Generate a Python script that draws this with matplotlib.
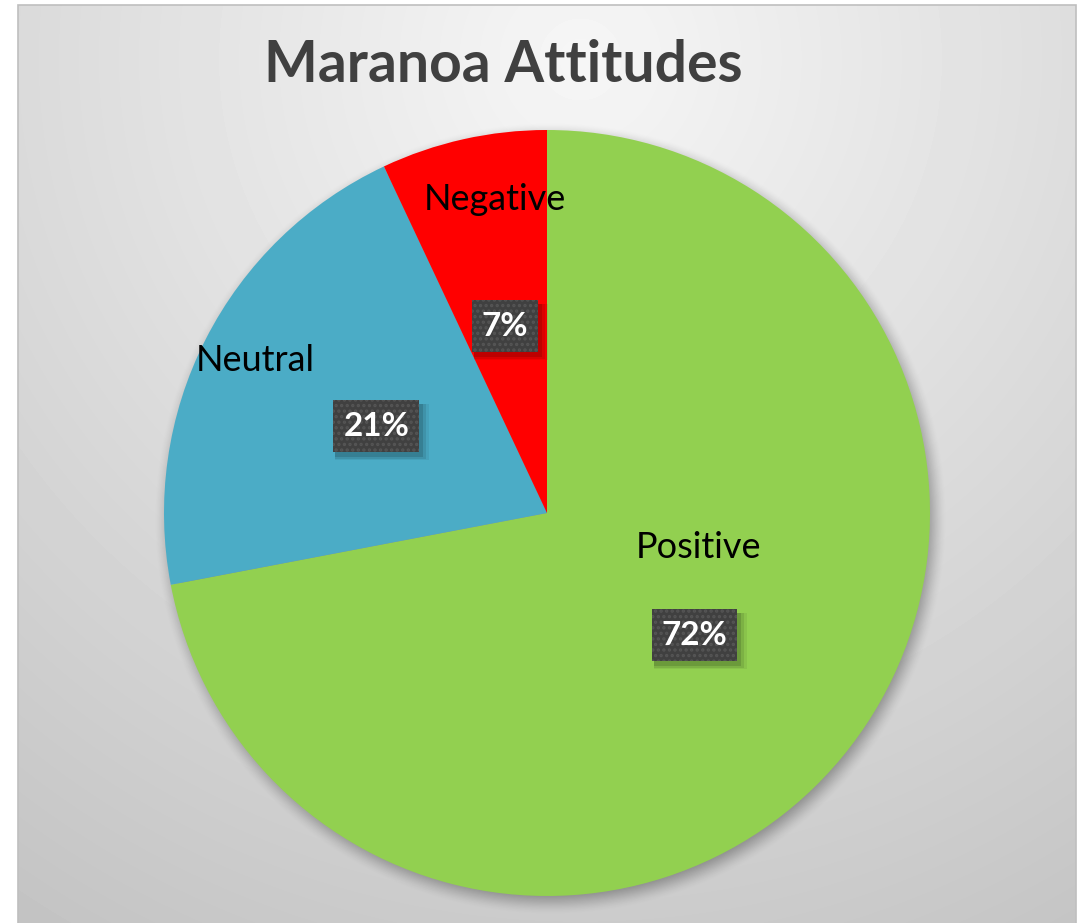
import numpy as np
import matplotlib
matplotlib.use('Agg')
import matplotlib.pyplot as plt
from matplotlib.patches import Rectangle

# data
categories = ['Positive', 'Neutral', 'Negative']
shares = [72, 21, 7]
colors = ['#92D050', '#4BACC6', '#FF0000']
title = 'Maranoa Attitudes'

W, H = 1086, 923
plt.rcParams['font.family'] = ['Lato', 'DejaVu Sans']
plt.rcParams['hatch.linewidth'] = 1.6

fig = plt.figure(figsize=(W / 100, H / 100), dpi=100)
ax = fig.add_axes([0, 0, 1, 1])
ax.set_axis_off()

# chart area background (radial grey gradient), pixel coords with y up
x0, x1, ytop = 18, 1076, H - 5
yy, xx = np.mgrid[0:ytop, x0:x1]
d = np.hypot(xx - 580, (H - yy) - 60)
g = np.clip(0.965 - 0.000195 * d, 0.74, 1)
ax.imshow(g, cmap='gray', vmin=0, vmax=1, extent=(x0, x1, 0, ytop),
          origin='lower', zorder=0, interpolation='bilinear')
ax.add_patch(Rectangle((x0, -5), x1 - x0, ytop + 5, fill=False,
                       edgecolor='#BFBFBF', lw=1.2, zorder=1))

# pie geometry
cx, cy, R = 547, H - 513, 383

# soft shadow under the pie
sx, sy, blur = cx + 3, cy - 6, 14
sy_grid, sx_grid = np.mgrid[0:H, 0:W]
ds = np.hypot(sx_grid - sx, sy_grid - sy)
a = np.clip((R + blur - ds) / (2 * blur), 0, 1)
a = a * a * (3 - 2 * a) * 0.35
shadow = np.zeros((H, W, 4))
shadow[..., 3] = a
ax.imshow(shadow, extent=(0, W, 0, H), origin='lower', zorder=2)

wedges, _ = ax.pie(shares, colors=colors, startangle=90, counterclock=False,
                   center=(cx, cy), radius=R,
                   wedgeprops=dict(linewidth=0, zorder=3))
for w in wedges:
    w.set_zorder(3)

# label offsets (category name relative to percentage box)
name_offsets = [(4, 88), (-121, 66), (-10, 127)]

fig.canvas.draw()
renderer = fig.canvas.get_renderer()
for w, cat, val, off in zip(wedges, categories, shares, name_offsets):
    mid = np.deg2rad((w.theta1 + w.theta2) / 2)
    px = cx + 0.5 * R * np.cos(mid)
    py = cy + 0.5 * R * np.sin(mid)
    t = ax.text(px, py, f'{val}%', color='white', fontsize=24,
                fontweight='bold', ha='center', va='center', zorder=7)
    bb = t.get_window_extent(renderer)
    bw = bb.width + 20
    bh = 52
    # box shadow
    for k, al in [(8, 0.06), (5, 0.09), (2, 0.13)]:
        ax.add_patch(Rectangle((px - bw / 2 + 2, py - bh / 2 - 5 - k / 2 + 1),
                               bw + k, bh + k / 2, facecolor='black',
                               alpha=al, lw=0, zorder=4))
    ax.add_patch(Rectangle((px - bw / 2, py - bh / 2), bw, bh,
                           facecolor='#404040', lw=0, zorder=5))
    ax.add_patch(Rectangle((px - bw / 2, py - bh / 2), bw, bh,
                           facecolor='none', edgecolor='#555555', lw=0,
                           hatch='...', zorder=6))
    ax.text(px + off[0], py + off[1], cat, color='black', fontsize=26,
            ha='center', va='center', zorder=7)

ax.text(503, H - 66, title, color='#404040', fontsize=41, fontweight='bold',
        ha='center', va='center', zorder=7)

ax.set_xlim(0, W)
ax.set_ylim(0, H)
ax.set_aspect('auto')

fig.savefig('out.png', dpi=100, facecolor='white')
